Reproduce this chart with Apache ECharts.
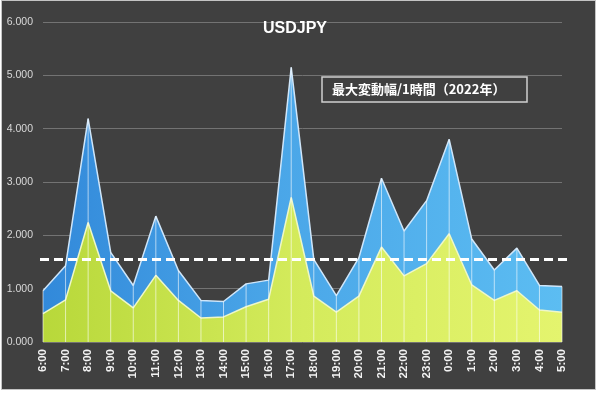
<!DOCTYPE html>
<html><head><meta charset="utf-8">
<script src="https://cdn.jsdelivr.net/npm/echarts@6/dist/echarts.min.js"></script>
<style>
html,body{margin:0;padding:0;background:#fff;}
#bg{position:absolute;left:1px;top:0px;width:595px;height:390px;background:#404040;border:1px solid #c4c4c4;box-sizing:border-box;}
#main{position:absolute;left:0;top:0;width:600px;height:394px;}
</style></head><body>
<div id="bg"></div><div id="main"></div>
<script>
const hours = ['6:00','7:00','8:00','9:00','10:00','11:00','12:00','13:00','14:00','15:00','16:00','17:00',
  '18:00','19:00','20:00','21:00','22:00','23:00','0:00','1:00','2:00','3:00','4:00','5:00'];
const maxRange = [0.96,1.43,4.19,1.68,1.06,2.36,1.34,0.78,0.76,1.09,1.16,5.15,
  1.55,0.87,1.58,3.07,2.08,2.65,3.80,1.93,1.35,1.76,1.06,1.04];
const avgRange = [0.53,0.79,2.24,0.96,0.64,1.25,0.78,0.45,0.47,0.66,0.80,2.71,
  0.86,0.56,0.86,1.78,1.24,1.47,2.03,1.07,0.78,0.96,0.60,0.56];
const threshold = 1.55;
const chartTitle = 'USDJPY';
const boxText = '最大変動幅/1時間（2022年）';

const chart = echarts.init(document.getElementById('main'), null, {renderer:'canvas'});
chart.setOption({
  animation: false,
  title: [
    {text: chartTitle, left: 263, top: 21, padding: 0,
     textStyle: {color:'#ffffff', fontSize:16, fontWeight:'bold', fontFamily:'Liberation Sans'}},
    {text: boxText, left: 322, top: 77, padding: [6, 22, 6, 10],
     borderColor:'#cfcfcf', borderWidth:1.5,
     textStyle: {color:'#ffffff', fontSize:13, fontWeight:'bold', fontFamily:'Noto Sans CJK JP'}}
  ],
  grid: {left: 43, right: 38, top: 22, bottom: 52, containLabel: false},
  xAxis: {
    type:'category', data: hours, boundaryGap:false,
    axisLine:{show:false}, axisTick:{show:false},
    axisLabel:{rotate:90, margin:7, color:'#f2f2f2', fontSize:11.5, fontWeight:'bold', fontFamily:'Liberation Sans', interval:0},
    splitLine:{show:false}
  },
  yAxis: {
    type:'value', min:0, max:6, interval:1,
    axisLine:{show:false}, axisTick:{show:false},
    axisLabel:{margin:10, color:'#d9d9d9', fontSize:10.5, fontFamily:'Liberation Sans',
      formatter: v => v.toFixed(3)},
    splitLine:{lineStyle:{color:'#737373', width:1}}
  },
  series: [
    {name:'最大', type:'line', data:maxRange, showSymbol:false, z:2, clip:false,
     lineStyle:{color:'#cfe6fa', width:1.5},
     areaStyle:{opacity:1, color:new echarts.graphic.LinearGradient(0,0,1,0,[
       {offset:0,color:'#3289da'},{offset:0.45,color:'#4aa6e8'},{offset:1,color:'#5cbdf2'}])}},
    {name:'平均', type:'line', data:avgRange, showSymbol:false, z:3, clip:false,
     lineStyle:{color:'#eef7c8', width:1.5},
     areaStyle:{opacity:1, color:new echarts.graphic.LinearGradient(0,0,1,0,[
       {offset:0,color:'#b8d83a'},{offset:0.5,color:'#d4eb5c'},{offset:1,color:'#e4f46e'}])},
     markLine:{symbol:'none', silent:true, label:{show:false},
       lineStyle:{color:'#ffffff', width:3, type:[9,5]},
       data:[[{xAxis:hours[0], yAxis:threshold, x:40},{xAxis:hours[hours.length-1], yAxis:threshold, x:570}]]}},
    {name:'縦線', type:'bar', data:maxRange, barWidth:1, z:4, silent:true,
     itemStyle:{color:'rgba(255,255,255,0.6)'}}
  ]
});
</script></body></html>
